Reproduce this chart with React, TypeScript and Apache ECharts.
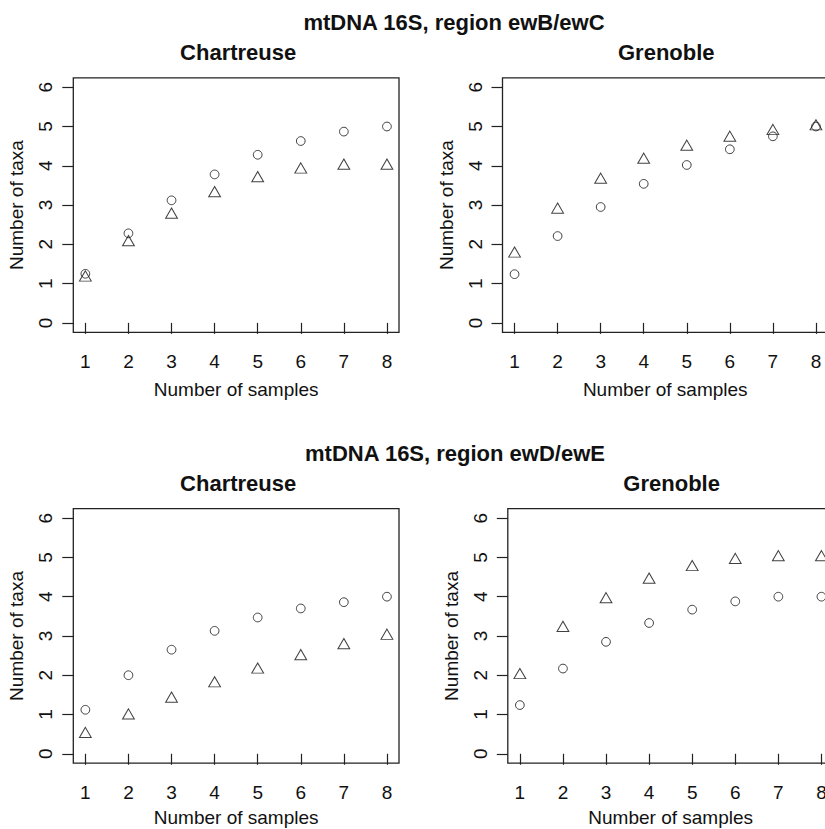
import React, { useEffect, useRef } from "react";
import * as echarts from "echarts";

const samples = [1, 2, 3, 4, 5, 6, 7, 8];
const yTicks = [0, 1, 2, 3, 4, 5, 6];

const mainTitles = ["mtDNA 16S, region ewB/ewC", "mtDNA 16S, region ewD/ewE"];
const panelTitles = ["Chartreuse", "Grenoble", "Chartreuse", "Grenoble"];

// circles (series 1) and triangles (series 2) per panel
const tlCircles = [1.25, 2.28, 3.12, 3.78, 4.28, 4.63, 4.87, 5.0];
const tlTriangles = [1.15, 2.05, 2.75, 3.3, 3.68, 3.9, 4.0, 4.0];
const trCircles = [1.24, 2.21, 2.95, 3.54, 4.02, 4.42, 4.75, 5.0];
const trTriangles = [1.76, 2.88, 3.64, 4.15, 4.48, 4.71, 4.88, 5.0];
const blCircles = [1.12, 2.0, 2.65, 3.13, 3.47, 3.7, 3.86, 4.0];
const blTriangles = [0.5, 0.97, 1.4, 1.79, 2.14, 2.48, 2.76, 3.0];
const brCircles = [1.24, 2.17, 2.85, 3.33, 3.67, 3.88, 4.0, 4.0];
const brTriangles = [2.0, 3.2, 3.93, 4.43, 4.75, 4.93, 5.0, 5.0];

const FONT = "'Liberation Sans', Arial, Helvetica, sans-serif";
const INK = "#111";

const grids = [
  { left: 73.3, top: 77.8, width: 325.7, height: 254.5 },
  { left: 502.5, top: 77.8, width: 325.5, height: 254.5 },
  { left: 73.3, top: 508.7, width: 325.7, height: 254.5 },
  { left: 507.8, top: 508.7, width: 325.7, height: 254.5 },
];

export default function App() {
  const ref = useRef<HTMLDivElement>(null);
  useEffect(() => {
    if (!ref.current) return;
    const chart = echarts.init(ref.current, null, { renderer: "svg" });
    const circleSets = [tlCircles, trCircles, blCircles, brCircles];
    const triSets = [tlTriangles, trTriangles, blTriangles, brTriangles];

    const series: any[] = [];
    for (let i = 0; i < 4; i++) {
      series.push({
        type: "scatter",
        xAxisIndex: i,
        yAxisIndex: i,
        symbol: "circle",
        symbolSize: 8.7,
        itemStyle: { color: "rgba(0,0,0,0)", borderColor: INK, borderWidth: 1 },
        data: samples.map((s, k) => [s, circleSets[i][k]]),
        silent: true,
      });
      series.push({
        type: "scatter",
        xAxisIndex: i,
        yAxisIndex: i,
        symbol: "triangle",
        symbolSize: [11.8, 10.2],
        symbolOffset: [0, -1.7],
        itemStyle: { color: "rgba(0,0,0,0)", borderColor: INK, borderWidth: 1 },
        data: samples.map((s, k) => [s, triSets[i][k]]),
        silent: true,
      });
    }

    const labelStyle = { fontSize: 19, color: INK, fontFamily: FONT };

    const option: any = {
      animation: false,
      backgroundColor: "#fff",
      grid: grids.map((g) => ({
        ...g,
        show: true,
        borderColor: "#222",
        borderWidth: 1.3,
        backgroundColor: "rgba(0,0,0,0)",
        containLabel: false,
        outerBoundsMode: "none",
      })),
      xAxis: grids.map((_, i) => ({
        gridIndex: i,
        type: "value",
        min: 0.72,
        max: 8.28,
        axisLine: { show: false },
        axisTick: {
          show: true,
          length: 11,
          customValues: samples,
          lineStyle: { color: "#222", width: 1.2 },
        },
        axisLabel: { customValues: samples, margin: 20, ...labelStyle },
        splitLine: { show: false },
        name: "Number of samples",
        nameLocation: "middle",
        nameGap: i < 2 ? 48 : 45,
        nameTextStyle: { ...labelStyle },
      })),
      yAxis: grids.map((_, i) => ({
        gridIndex: i,
        type: "value",
        min: -0.24,
        max: 6.24,
        axisLine: { show: false },
        axisTick: {
          show: true,
          length: 11,
          customValues: yTicks,
          lineStyle: { color: "#222", width: 1.2 },
        },
        axisLabel: { customValues: yTicks, rotate: 90, margin: 18, ...labelStyle },
        splitLine: { show: false },
        name: "Number of taxa",
        nameLocation: "middle",
        nameRotate: 90,
        nameGap: 47,
        nameTextStyle: { ...labelStyle },
      })),
      graphic: [
        { type: "text", x: 454, y: 22, style: { text: mainTitles[0], fontSize: 22, fontWeight: "bold", fontFamily: FONT, fill: INK, align: "center", verticalAlign: "middle" } },
        { type: "text", x: 455, y: 453, style: { text: mainTitles[1], fontSize: 22, fontWeight: "bold", fontFamily: FONT, fill: INK, align: "center", verticalAlign: "middle" } },
        ...grids.map((g, i) => ({
          type: "text",
          x: g.left + g.width / 2 + (i % 2 === 0 ? 2 : 1),
          y: i < 2 ? 52 : 483,
          style: { text: panelTitles[i], fontSize: 22, fontWeight: "bold", fontFamily: FONT, fill: INK, align: "center", verticalAlign: "middle" },
        })),
      ],
      series,
    };
    chart.setOption(option);
    return () => chart.dispose();
  }, []);
  return (
    <div
      ref={ref}
      style={{ position: "fixed", left: 0, top: 0, width: 825, height: 829, background: "#fff" }}
    />
  );
}
